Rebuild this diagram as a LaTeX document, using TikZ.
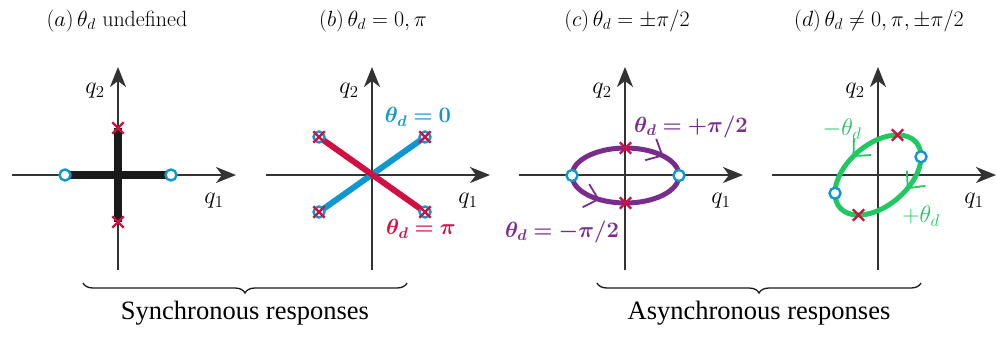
\documentclass[tikz,border=0pt]{standalone}
\usepackage{fix-cm}
\usepackage{amsmath,bm}
\usepackage{fontspec}
\newfontfamily\timesf{Liberation Serif}
\usetikzlibrary{arrows.meta,decorations.markings,decorations.pathreplacing,shapes.misc}
\definecolor{axc}{RGB}{51,51,51}
\definecolor{cyanc}{RGB}{16,152,206}
\definecolor{redc}{RGB}{208,16,64}
\definecolor{purplec}{RGB}{122,44,140}
\definecolor{greenc}{RGB}{32,200,96}
\definecolor{blackc}{RGB}{26,26,26}
\begin{document}
\begin{tikzpicture}[x=1pt,y=-1pt, font=\fontsize{22}{26}\selectfont,
  axis/.style={draw=axc, line width=2.2pt, -{Stealth[length=20pt,width=16pt,inset=6pt]}},
  ring/.style={circle, draw=cyanc, fill=white, line width=2.4pt, minimum size=11pt, inner sep=0pt},
  xmark/.style={cross out, draw=redc, line width=2.4pt, minimum size=9pt, inner sep=0pt},
  lbl/.style={inner sep=1pt},
  biglbl/.style={inner sep=1pt, font=\fontsize{24}{28}\selectfont},
  midarrow/.style={postaction={decorate, decoration={markings,
      mark=at position #1 with {\arrow{Straight Barb[length=13pt,width=24pt,line width=1.8pt]}}}}},
  brc/.style={decorate, decoration={brace, mirror, amplitude=10pt}, line width=1.3pt, draw=blackc}
]
\useasboundingbox (0,0) rectangle (996,338);

% ---------- titles
\node[lbl] (ta) at (117,21) {$(a)\,\theta_d$ undefined};
\node[lbl] (tb) at (373,21) {$(b)\,\theta_d = 0,\pi$};
\node[lbl] (tc) at (627,21) {$(c)\,\theta_d = \pm\pi/2$};
\node[lbl] (td) at (879,21) {$(d)\,\theta_d \neq 0,\pi,\pm\pi/2$};

% ---------- axes (four panels)
\foreach \n/\cx in {a/118,b/372,c/625,d/878}{
  \coordinate (\n L) at (\cx-106,175);
  \coordinate (\n R) at (\cx+118,175);
  \coordinate (\n B) at (\cx,270);
  \coordinate (\n T) at (\cx,67);
  \draw[axis] (\n L) -- (\n R);
  \draw[axis] (\n B) -- (\n T);
  \node[biglbl] (\n q2) at (\cx-23,91) {$q_2$};
  \node[biglbl] (\n q1) at (\cx+96,201) {$q_1$};
}

% ---------- panel (a)
\coordinate (aC1) at (65,175);
\coordinate (aC2) at (171,175);
\coordinate (aX1) at (118,128);
\coordinate (aX2) at (118,222);
\draw[draw=blackc, line width=8pt] (aC1) -- (aC2);
\draw[draw=blackc, line width=8pt] (aX1) -- (aX2);
\node[ring] (ac1) at (aC1) {};
\node[ring] (ac2) at (aC2) {};
\node[xmark] (ax1) at (aX1) {};
\node[xmark] (ax2) at (aX2) {};

% ---------- panel (b)
\coordinate (bTL) at (319,137);
\coordinate (bTR) at (425,137);
\coordinate (bBL) at (319,212);
\coordinate (bBR) at (425,212);
\draw[draw=cyanc, line width=6pt] (bBL) -- (bTR);
\draw[draw=redc, line width=6pt] (bTL) -- (bBR);
\foreach \p in {TL,TR,BL,BR}{
  \node[ring] (bc\p) at (b\p) {};
  \node[xmark] (bx\p) at (b\p) {};
}
\node[lbl, text=cyanc] (bl0) at (418,117) {$\boldsymbol{\theta_d = 0}$};
\node[lbl, text=redc] (blpi) at (421,229) {$\boldsymbol{\theta_d = \pi}$};

% ---------- panel (c)
\coordinate (cL) at (572,175.5);
\coordinate (cRt) at (679,175.5);
\draw[draw=purplec, line width=5pt, midarrow=0.8] (cL) arc[start angle=180, end angle=0, x radius=53.5, y radius=-27.5];
\draw[draw=purplec, line width=5pt, midarrow=0.3] (cL) arc[start angle=180, end angle=360, x radius=53.5, y radius=-27.5];
\node[ring] (cc1) at (cL) {};
\node[ring] (cc2) at (cRt) {};
\node[xmark] (cx1) at (625.5,148) {};
\node[xmark] (cx2) at (625.5,203) {};
\node[lbl, text=purplec] (clp) at (691,127) {$\boldsymbol{\theta_d = +\pi/2}$};
\node[lbl, text=purplec] (clm) at (562,232) {$\boldsymbol{\theta_d = -\pi/2}$};

% ---------- panel (d)
\draw[draw=greenc, line width=5pt, midarrow=0.68] plot[domain=0:180, samples=80] ({878+43*cos(\x)}, {175-40*cos(\x-63)});
\draw[draw=greenc, line width=5pt, midarrow=0.28] plot[domain=0:-180, samples=80] ({878+43*cos(\x)}, {175-40*cos(\x-63)});
\node[ring] (dc1) at (921,156.8) {};
\node[ring] (dc2) at (835,193.2) {};
\node[xmark] (dx1) at (897.5,135) {};
\node[xmark] (dx2) at (858.5,215) {};
\node[biglbl, text=greenc] (dlm) at (842,129) {$-\theta_d$};
\node[biglbl, text=greenc] (dlp) at (921,216) {$+\theta_d$};

% ---------- braces
\coordinate (s1) at (83,283);
\coordinate (s2) at (407,283);
\coordinate (r1) at (597,283);
\coordinate (r2) at (921,283);
\draw[brc] (s1) -- (s2);
\draw[brc] (r1) -- (r2);
\node[lbl, font=\timesf\fontsize{26.5}{30}\selectfont] (sync) at (245,313) {Synchronous responses};
\node[lbl, font=\timesf\fontsize{26.5}{30}\selectfont] (async) at (759,313) {Asynchronous responses};
\end{tikzpicture}
\end{document}
